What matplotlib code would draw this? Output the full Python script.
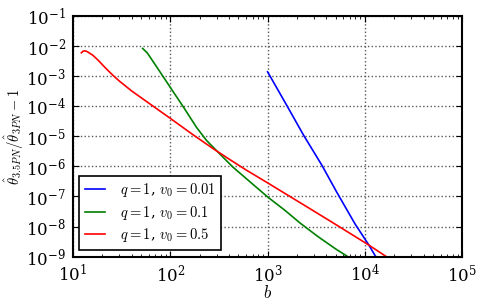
import matplotlib
matplotlib.use("Agg")
import matplotlib.pyplot as plt

plt.rcParams["mathtext.fontset"] = "cm"
plt.rcParams["font.family"] = "serif"
plt.rcParams["font.serif"] = ["DejaVu Serif"]
plt.rcParams["font.size"] = 12

# values (b, ratio - 1)
b_001 = [1000, 1580, 2340, 3610, 5130, 7940, 11000, 12900, 14500]
y_001 = [1.4e-3, 1.05e-4, 1.1e-5, 1.1e-6, 1.4e-7, 1.2e-8, 2.4e-9, 1.0e-9, 5e-10]

b_01 = [52, 58, 67, 84, 103, 135, 186, 235, 300, 440, 650, 1006, 1500,
        2160, 3300, 5000, 6500, 8000]
y_01 = [8.4e-3, 6.0e-3, 3.0e-3, 1.0e-3, 3.7e-4, 1.0e-4, 2.0e-5, 7.4e-6,
        3.3e-6, 9.5e-7, 3.2e-7, 9.5e-8, 3.5e-8, 1.3e-8, 4.6e-9, 1.8e-9,
        1.05e-9, 6e-10]

b_05 = [12.2, 12.7, 13.2, 14.0, 16, 18, 22, 25.7, 30, 40, 66, 102, 170,
        286, 420, 602, 1006, 2160, 4500, 7500, 11000, 16200, 19000]
y_05 = [6.0e-3, 6.8e-3, 7.0e-3, 6.6e-3, 5.0e-3, 3.5e-3, 1.77e-3, 1.08e-3,
        6.9e-4, 3.26e-4, 1.03e-4, 3.8e-5, 1.15e-5, 3.6e-6, 1.6e-6, 7.6e-7,
        2.8e-7, 6.2e-8, 1.45e-8, 5.2e-9, 2.4e-9, 1.05e-9, 7.5e-10]

labels = [r"$q=1$, $v_0=0.01$", r"$q=1$, $v_0=0.1$", r"$q=1$, $v_0=0.5$"]

fig = plt.figure(figsize=(4.83, 3.04), dpi=100)
ax = fig.add_axes([0.151, 0.156, 0.806, 0.791])

ax.loglog(b_001, y_001, color="b", lw=1.2, label=labels[0])
ax.loglog(b_01, y_01, color="g", lw=1.2, label=labels[1])
ax.loglog(b_05, y_05, color="r", lw=1.2, label=labels[2])

ax.set_xlim(1e1, 1e5)
ax.set_ylim(1e-9, 1e-1)
ax.set_yticks([10.0 ** k for k in range(-9, 0)])
ax.set_xticks([10.0 ** k for k in range(1, 6)])

ax.grid(True, which="major", linestyle=":", color="0.35", lw=1.0)
ax.tick_params(which="both", direction="in", top=True, right=True, labelsize=12)
ax.tick_params(which="major", length=4, pad=5)
ax.tick_params(which="minor", length=2)
for s in ax.spines.values():
    s.set_linewidth(1.5)

ax.set_xlabel(r"$b$", labelpad=0)
ax.set_ylabel(r"$\hat{\theta}_{3.5PN}/\hat{\theta}_{3PN}-1$", fontsize=10.5)
ax.yaxis.set_label_coords(-0.12, 0.5)

leg = ax.legend(loc="lower left", fontsize=10.5, fancybox=False, framealpha=1,
                edgecolor="k", borderaxespad=0.45, handlelength=1.35,
                handletextpad=1.0, labelspacing=0.3, borderpad=0.4)
leg.get_frame().set_linewidth(1.2)

fig.savefig("out.png", dpi=100)
